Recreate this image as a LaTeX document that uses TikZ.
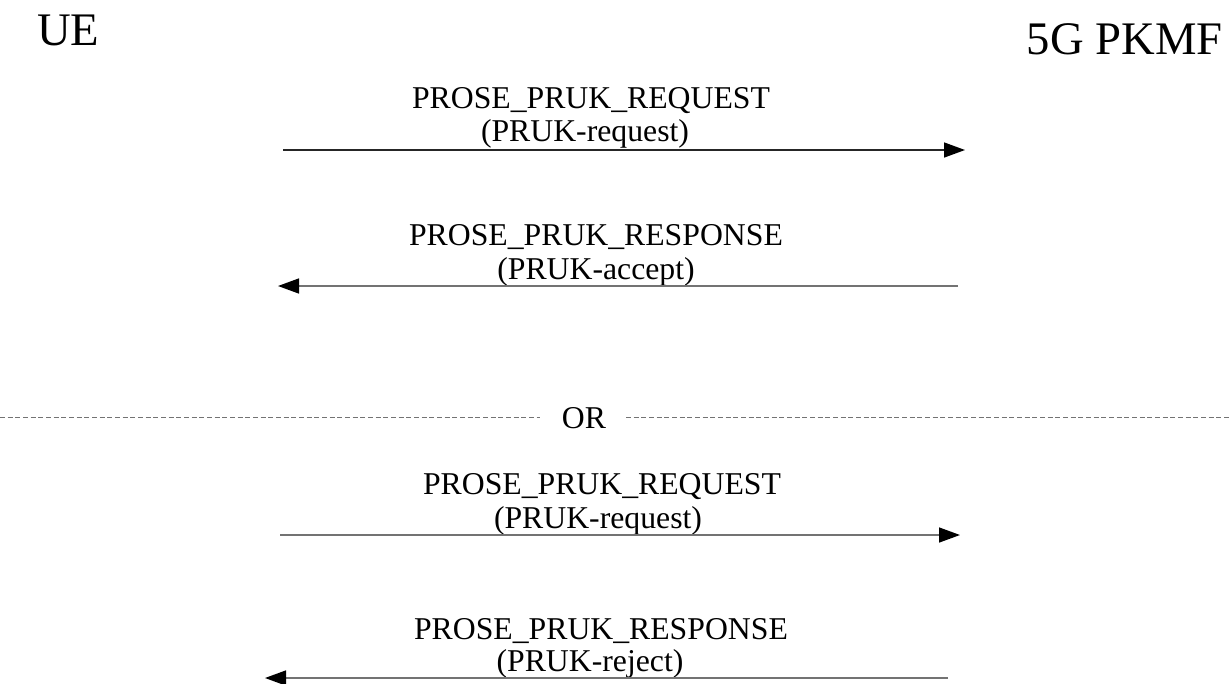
\documentclass[tikz,border=0pt]{standalone}
\usepackage{fontspec}
\setmainfont{Liberation Serif}
\usetikzlibrary{arrows.meta}
\begin{document}
\begin{tikzpicture}[x=0.75pt,y=-0.75pt,
  party/.style={inner sep=0pt,font=\fontsize{35}{40}\selectfont},
  msg/.style={inner sep=0pt,anchor=base,font=\fontsize{23.8}{28}\selectfont},
  arrowline/.style={line width=1.1pt,-{Triangle[length=15.75pt,width=11.25pt,color=black,fill=black]}},
  sepline/.style={line width=0.75pt,black!55,dash pattern=on 3.75pt off 2pt}]
\useasboundingbox (0,0) rectangle (1229,683);
\node[party,anchor=base west] (ue) at (37,45) {UE};
\node[party,anchor=base east] (pkmf) at (1223,54) {5G PKMF};
% message 1
\node[msg] (m1a) at (591,108) {PROSE\_PRUK\_REQUEST};
\node[msg] (m1b) at (585,141) {(PRUK-request)};
\coordinate (a1s) at (283,150);
\coordinate (a1e) at (965,150);
\draw[arrowline,draw=black!85] (a1s) -- (a1e);
% message 2
\node[msg] (m2a) at (596,245) {PROSE\_PRUK\_RESPONSE};
\node[msg] (m2b) at (596,279) {(PRUK-accept)};
\coordinate (a2s) at (958,286);
\coordinate (a2e) at (278,286);
\draw[arrowline,draw=black!55] (a2s) -- (a2e);
% OR separator
\node[msg] (or) at (584,428) {OR};
\coordinate (d1s) at (0,417);
\coordinate (d1e) at (540,417);
\coordinate (d2s) at (626,417);
\coordinate (d2e) at (1229,417);
\draw[sepline] (d1s) -- (d1e);
\draw[sepline] (d2s) -- (d2e);
% message 3
\node[msg] (m3a) at (602,494) {PROSE\_PRUK\_REQUEST};
\node[msg] (m3b) at (598,528) {(PRUK-request)};
\coordinate (a3s) at (280,535);
\coordinate (a3e) at (960,535);
\draw[arrowline,draw=black!55] (a3s) -- (a3e);
% message 4
\node[msg] (m4a) at (601,639) {PROSE\_PRUK\_RESPONSE};
\node[msg] (m4b) at (590,671) {(PRUK-reject)};
\coordinate (a4s) at (948,678);
\coordinate (a4e) at (265,678);
\draw[arrowline,draw=black!55] (a4s) -- (a4e);
\end{tikzpicture}
\end{document}
